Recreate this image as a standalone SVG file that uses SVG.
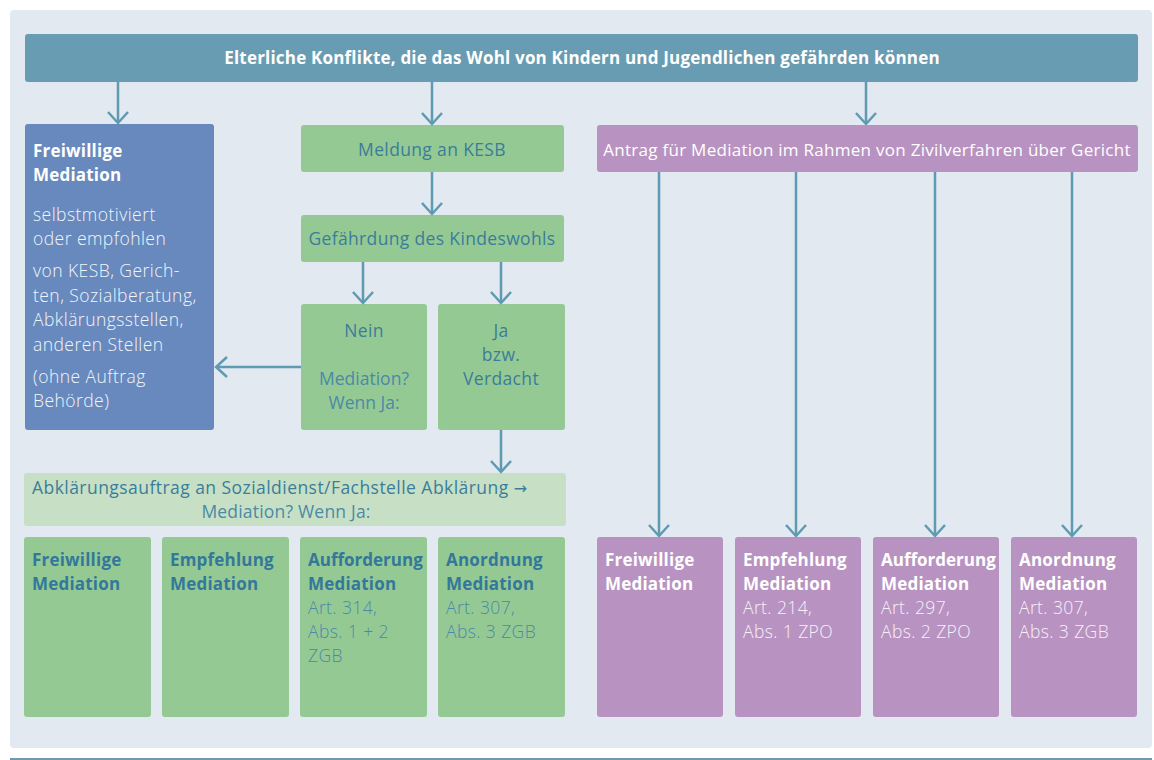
<svg xmlns="http://www.w3.org/2000/svg" width="1154" height="760" viewBox="0 0 1154 760">
<defs>
<marker id="ah" viewBox="-13 -12 15 24" refX="0" refY="0" markerWidth="15" markerHeight="24" markerUnits="userSpaceOnUse" orient="auto">
<path d="M-11,-10 L0,0 L-11,10" fill="none" stroke="#5f9ab3" stroke-width="2.5"/>
</marker>
<style>
text{font-family:"Open Sans","Noto Sans",sans-serif;}
.ttl{font-size:17px;font-weight:700;fill:#ffffff;letter-spacing:0.2px;}
.hdr{font-size:17px;fill:#ffffff;letter-spacing:0.28px;}
.wb{font-size:17px;font-weight:700;fill:#ffffff;letter-spacing:0.2px;}
.wl{font-size:17.5px;font-weight:300;fill:#f2f5fa;letter-spacing:0.45px;}
.pl{font-size:17.5px;font-weight:300;fill:#f7f0f9;letter-spacing:0.4px;}
.gt{font-size:17.5px;fill:#3a7d9a;letter-spacing:0.35px;}
.gb{font-size:17px;font-weight:700;fill:#33789a;letter-spacing:0.2px;}
.gl{font-size:17.5px;font-weight:300;fill:#4a8aa6;letter-spacing:0.4px;}
.arr{font-family:"DejaVu Sans",sans-serif;font-size:16px;}
.blue{fill:#6789bd;}
.green{fill:#95c994;}
.lgreen{fill:#c7e0c5;}
.purple{fill:#b893c1;}
.conn{stroke:#5f9ab3;stroke-width:2.5;fill:none;marker-end:url(#ah);}
</style>
</defs>
<rect x="10" y="10" width="1142" height="738" rx="4" fill="#e2e9f0"/>
<line x1="10" y1="759" x2="1152" y2="759" stroke="#3d7893" stroke-width="1.5"/>

<g id="banner">
<rect x="25" y="34" width="1113" height="48" rx="3" fill="#689cb2"/>
<text class="ttl" x="582" y="64" text-anchor="middle">Elterliche Konflikte, die das Wohl von Kindern und Jugendlichen gefährden können</text>
</g>

<g id="freiwillig-links">
<rect class="blue" x="25" y="124" width="189" height="306" rx="3"/>
<text class="wb" x="33" y="157">Freiwillige</text>
<text class="wb" x="33" y="181">Mediation</text>
<text class="wl" x="33" y="221">selbstmotiviert</text>
<text class="wl" x="33" y="245">oder empfohlen</text>
<text class="wl" x="33" y="277">von KESB, Gerich-</text>
<text class="wl" x="33" y="302">ten, Sozialberatung,</text>
<text class="wl" x="33" y="326">Abklärungsstellen,</text>
<text class="wl" x="33" y="351">anderen Stellen</text>
<text class="wl" x="33" y="383">(ohne Auftrag</text>
<text class="wl" x="33" y="407">Behörde)</text>
</g>

<g id="meldung">
<rect class="green" x="301" y="125" width="263" height="47" rx="3"/>
<text class="gt" x="432" y="156" text-anchor="middle">Meldung an KESB</text>
</g>

<g id="gefaehrdung">
<rect class="green" x="301" y="215" width="263" height="47" rx="3"/>
<text class="gt" x="432" y="245" text-anchor="middle">Gefährdung des Kindeswohls</text>
</g>

<g id="nein">
<rect class="green" x="301" y="304" width="126" height="126" rx="3"/>
<text class="gt" x="364" y="337" text-anchor="middle">Nein</text>
<text class="gt" x="364" y="385" text-anchor="middle" style="fill:#4a8aa6;letter-spacing:0">Mediation?</text>
<text class="gt" x="364" y="409" text-anchor="middle" style="fill:#4a8aa6;letter-spacing:0">Wenn Ja:</text>
</g>

<g id="ja">
<rect class="green" x="438" y="304" width="127" height="126" rx="3"/>
<text class="gt" x="501" y="337" text-anchor="middle">Ja</text>
<text class="gt" x="501" y="361" text-anchor="middle">bzw.</text>
<text class="gt" x="501" y="385" text-anchor="middle">Verdacht</text>
</g>

<g id="abklaerung">
<rect class="lgreen" x="24" y="473" width="542" height="53" rx="3"/>
<text class="gt" x="32" y="494" style="letter-spacing:0.45px">Abklärungsauftrag an Sozialdienst/Fachstelle Abklärung <tspan class="arr">→</tspan></text>
<text class="gt" x="286" y="518" text-anchor="middle" style="fill:#4a8aa6;letter-spacing:0.2px">Mediation? Wenn Ja:</text>
</g>

<g id="g-freiwillig">
<rect class="green" x="24" y="537" width="127" height="180" rx="3"/>
<text class="gb" x="32" y="566">Freiwillige</text>
<text class="gb" x="32" y="590">Mediation</text>
</g>
<g id="g-empfehlung">
<rect class="green" x="162" y="537" width="127" height="180" rx="3"/>
<text class="gb" x="170" y="566">Empfehlung</text>
<text class="gb" x="170" y="590">Mediation</text>
</g>
<g id="g-aufforderung">
<rect class="green" x="300" y="537" width="127" height="180" rx="3"/>
<text class="gb" x="308" y="566" style="letter-spacing:0">Aufforderung</text>
<text class="gb" x="308" y="590">Mediation</text>
<text class="gl" x="308" y="614">Art. 314,</text>
<text class="gl" x="308" y="638">Abs. 1 + 2</text>
<text class="gl" x="308" y="662">ZGB</text>
</g>
<g id="g-anordnung">
<rect class="green" x="438" y="537" width="127" height="180" rx="3"/>
<text class="gb" x="446" y="566">Anordnung</text>
<text class="gb" x="446" y="590">Mediation</text>
<text class="gl" x="446" y="614">Art. 307,</text>
<text class="gl" x="446" y="638">Abs. 3 ZGB</text>
</g>

<g id="antrag">
<rect class="purple" x="597" y="125" width="541" height="47" rx="3"/>
<text class="hdr" x="867" y="156" text-anchor="middle">Antrag für Mediation im Rahmen von Zivilverfahren über Gericht</text>
</g>

<g id="p-freiwillig">
<rect class="purple" x="597" y="537" width="126" height="180" rx="3"/>
<text class="wb" x="605" y="566">Freiwillige</text>
<text class="wb" x="605" y="590">Mediation</text>
</g>
<g id="p-empfehlung">
<rect class="purple" x="735" y="537" width="126" height="180" rx="3"/>
<text class="wb" x="743" y="566">Empfehlung</text>
<text class="wb" x="743" y="590">Mediation</text>
<text class="pl" x="743" y="614">Art. 214,</text>
<text class="pl" x="743" y="638">Abs. 1 ZPO</text>
</g>
<g id="p-aufforderung">
<rect class="purple" x="873" y="537" width="126" height="180" rx="3"/>
<text class="wb" x="881" y="566" style="letter-spacing:0">Aufforderung</text>
<text class="wb" x="881" y="590">Mediation</text>
<text class="pl" x="881" y="614">Art. 297,</text>
<text class="pl" x="881" y="638">Abs. 2 ZPO</text>
</g>
<g id="p-anordnung">
<rect class="purple" x="1011" y="537" width="126" height="180" rx="3"/>
<text class="wb" x="1019" y="566">Anordnung</text>
<text class="wb" x="1019" y="590">Mediation</text>
<text class="pl" x="1019" y="614">Art. 307,</text>
<text class="pl" x="1019" y="638">Abs. 3 ZGB</text>
</g>

<g id="connectors">
<line class="conn" x1="118" y1="82" x2="118" y2="123"/>
<line class="conn" x1="432" y1="82" x2="432" y2="124"/>
<line class="conn" x1="866" y1="82" x2="866" y2="124"/>
<line class="conn" x1="432" y1="172" x2="432" y2="214"/>
<line class="conn" x1="363" y1="262" x2="363" y2="303"/>
<line class="conn" x1="501" y1="262" x2="501" y2="303"/>
<line class="conn" x1="301" y1="367" x2="216" y2="367"/>
<line class="conn" x1="501" y1="430" x2="501" y2="472"/>
<line class="conn" x1="659" y1="172" x2="659" y2="536"/>
<line class="conn" x1="796" y1="172" x2="796" y2="536"/>
<line class="conn" x1="935" y1="172" x2="935" y2="536"/>
<line class="conn" x1="1072" y1="172" x2="1072" y2="536"/>
</g>
</svg>
